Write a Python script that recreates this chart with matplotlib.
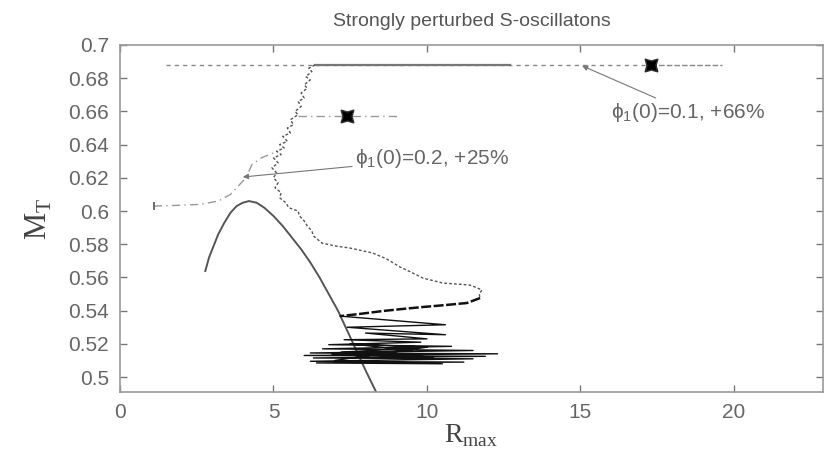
import matplotlib
matplotlib.use("Agg")
import matplotlib.pyplot as plt
import numpy as np

# ---------------- data ----------------
title = "Strongly perturbed S-oscillatons"
xticks = [0, 5, 10, 15, 20]
yticks = [0.5, 0.52, 0.54, 0.56, 0.58, 0.6, 0.62, 0.64, 0.66, 0.68, 0.7]
ytick_labels = ["0.5", "0.52", "0.54", "0.56", "0.58", "0.6", "0.62", "0.64", "0.66", "0.68", "0.7"]

# equilibrium (solid) curve
eq_x = [2.77, 2.9, 3.05, 3.2, 3.4, 3.6, 3.8, 4.0, 4.2, 4.45, 4.7, 5.0, 5.3, 5.6, 5.9,
        6.2, 6.5, 6.8, 7.1, 7.4, 7.7, 8.0, 8.37]
eq_y = [0.5633, 0.572, 0.579, 0.586, 0.593, 0.599, 0.603, 0.605, 0.606, 0.605, 0.602,
        0.597, 0.591, 0.584, 0.577, 0.569, 0.560, 0.550, 0.540, 0.528, 0.516, 0.504, 0.490]

# top horizontal run (phi1(0)=0.1)
top_y = 0.688
top_dot_x = [1.5, 17.3]
top_solid_x = [6.35, 12.7]
top_tail_x = [17.3, 19.6]
star1 = (17.3, 0.688)

# second star run
mid_y = 0.657
mid_x = [5.8, 9.1]
star2 = (7.4, 0.657)

# wiggly descending curve (phi1(0)=0.2)
wig_x = [6.35, 6.15, 6.25, 6.05, 6.2, 6.0, 6.1, 5.9, 6.0, 5.8, 5.9, 5.7, 5.8, 5.55, 5.65,
         5.45, 5.55, 5.3, 5.45, 5.2, 5.35, 5.1, 5.25, 5.0, 5.15, 4.95, 5.1, 5.0, 5.15, 5.05,
         5.25, 5.2, 5.4, 5.5, 5.8, 5.85, 6.0, 6.1, 6.25, 6.3, 6.58, 7.0, 7.49, 8.24, 8.7,
         9.12, 9.5, 9.87, 10.52, 11.0, 11.4, 11.6, 11.79, 11.7, 11.73]
wig_y = [0.688, 0.686, 0.684, 0.681, 0.679, 0.676, 0.674, 0.671, 0.668, 0.666, 0.663, 0.660,
         0.658, 0.655, 0.652, 0.650, 0.647, 0.645, 0.642, 0.640, 0.638, 0.636, 0.634, 0.632,
         0.629, 0.626, 0.623, 0.620, 0.617, 0.614, 0.611, 0.608, 0.605, 0.602, 0.600, 0.597,
         0.594, 0.591, 0.588, 0.585, 0.5807, 0.579, 0.5777, 0.5747, 0.571, 0.5663, 0.563,
         0.5596, 0.5566, 0.556, 0.5554, 0.554, 0.5524, 0.550, 0.5476]

# return branch (dark)
ret_x = [11.73, 11.3, 10.5, 9.87, 9.2, 8.57, 7.8, 7.17]
ret_y = [0.5476, 0.5446, 0.5432, 0.5422, 0.541, 0.5398, 0.538, 0.5367]

# damped oscillations
osc_x = [7.17, 10.6, 7.4, 10.6, 8.0, 10.0, 7.3, 9.8, 6.8, 10.8, 6.6, 11.5, 6.2, 12.3, 6.0,
         11.9, 6.3, 11.5, 6.2, 11.2, 6.4, 10.5, 7.0, 10.0, 7.5, 9.5, 6.9, 10.2, 7.2, 9.6]
osc_y = [0.5367, 0.5315, 0.5300, 0.5255, 0.5265, 0.5230, 0.5225, 0.5210, 0.5195, 0.5185,
         0.5170, 0.5160, 0.5145, 0.5140, 0.5130, 0.5125, 0.5115, 0.5110, 0.5095, 0.5090,
         0.5085, 0.5080, 0.5100, 0.5180, 0.5200, 0.5160, 0.5140, 0.5120, 0.5150, 0.5175]

# left dash-dot branch
left_x = [1.1, 2.0, 2.6, 3.2, 3.6, 4.1, 4.3, 4.6, 5.0]
left_y = [0.603, 0.6035, 0.604, 0.606, 0.610, 0.620, 0.628, 0.632, 0.635]

label1 = "ϕ$_\\mathregular{1}$(0)=0.2, +25%"
label1_xy = (7.65, 0.6315)
label1_tip = (4.0, 0.6205)
label2 = "ϕ$_\\mathregular{1}$(0)=0.1, +66%"
label2_xy = (16.0, 0.6595)
label2_tip = (15.05, 0.6875)

# ---------------- figure ----------------
W, H = 824, 451
fig = plt.figure(figsize=(W / 100, H / 100), dpi=100)
ax = fig.add_axes([120 / W, 1 - 392 / H, (823 - 120) / W, (392 - 45) / H])
ax.set_xlim(0, 22.9)
ax.set_ylim(0.491, 0.7)

gray = "#666666"
sans = ["Liberation Sans", "DejaVu Sans"]

# solid equilibrium curve
ax.plot(eq_x, eq_y, color="#555555", lw=1.4, solid_capstyle="butt")

# top horizontal line
ax.plot(top_dot_x, [top_y, top_y], color="#888888", lw=1.0, ls=(0, (3, 3)))
ax.plot(top_solid_x, [top_y, top_y], color="#777777", lw=1.6)
ax.plot(top_tail_x, [top_y, top_y], color="#888888", lw=1.0, ls=(0, (4, 1.5)))

# second run
ax.plot(mid_x, [mid_y, mid_y], color="#999999", lw=1.0, ls=(0, (6, 3, 1, 3)))

# left branch
ax.plot(left_x, left_y, color="#999999", lw=1.0, ls=(0, (6, 3, 1, 3)))
ax.plot([left_x[0]], [left_y[0]], marker="|", color="#555555", ms=6, mew=1.2)

# wiggly curve
ax.plot(wig_x, wig_y, color="#555555", lw=1.0, ls=(0, (2, 1.5)))
ax.plot(ret_x, ret_y, color="#111111", lw=1.8, ls=(0, (4, 1)))
ax.plot(osc_x, osc_y, color="#111111", lw=1.0)

# stars
for sx, sy in (star1, star2):
    ax.plot([sx], [sy], marker=(4, 1, 45), color="black", ms=13, mec="#333333")

# annotations
for lab, xy, tip in ((label1, label1_xy, label1_tip), (label2, label2_xy, label2_tip)):
    ax.annotate(lab, xy=tip, xytext=xy, color=gray, fontsize=15,
                family=sans, va="center", ha="left",
                arrowprops=dict(arrowstyle="-|>", color="#777777", lw=0.8,
                                mutation_scale=8, shrinkA=0, shrinkB=0))

# axes styling
ax.set_xticks(xticks)
ax.set_xticklabels([str(t) for t in xticks], family=sans, fontsize=15, color=gray)
ax.set_yticks(yticks)
ax.set_yticklabels(ytick_labels, family=sans, fontsize=15, color=gray)
ax.tick_params(direction="in", length=5, width=1, color="#777777",
               top=True, right=True, pad=8)
for s in ax.spines.values():
    s.set_color("#999999")
    s.set_linewidth(1.2)

ax.set_title(title, family=sans, fontsize=14, color="#555555", pad=14)
ax.set_xlabel("R$_\\mathregular{max}$", family="Liberation Serif", fontsize=20,
              color="#444444", labelpad=0)
ax.set_ylabel("M$_\\mathregular{T}$", family="Liberation Serif", fontsize=22,
              color="#444444", labelpad=10)

fig.savefig("out.png", dpi=100)
